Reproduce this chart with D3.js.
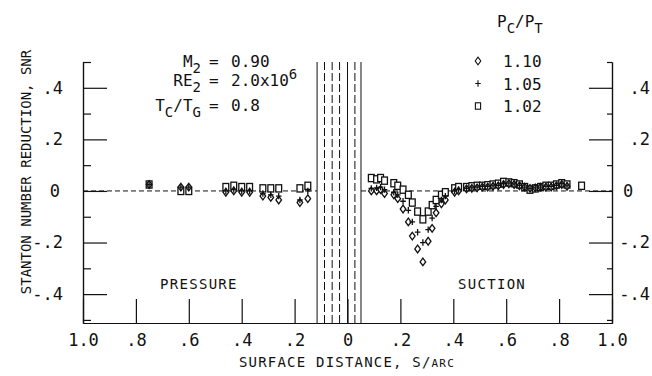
<!DOCTYPE html>
<html>
<head>
<meta charset="utf-8">
<script src="https://cdn.jsdelivr.net/npm/d3@7/dist/d3.min.js"></script>
<style>
  body { margin: 0; background: #fff; }
  text { font-family: 'DejaVu Sans Mono', monospace; fill: #111; }
</style>
</head>
<body>
<div id="chart"></div>
<script>
// axis ticks
var xTickValues = [-1, -0.8, -0.6, -0.4, -0.2, 0, 0.2, 0.4, 0.6, 0.8, 1];
var xTickLabels = ["1.0", ".8", ".6", ".4", ".2", "0", ".2", ".4", ".6", ".8", "1.0"];
var yTickValues = [-0.4, -0.2, 0, 0.2, 0.4];
var yTickLabels = ["-.4", "-.2", "0", ".2", ".4"];
var yMinorTicks = [-0.5, -0.3, -0.1, 0.1, 0.3, 0.5];

// coolant hole rows near the leading edge (signed surface distance)
var solidRows = [-0.115, 0, 0.051];
var dashedRows = [-0.087, -0.058, -0.03, 0.028];

// pressure side (distance from leading edge)
var pressureS      = [0.75, 0.63, 0.60, 0.46, 0.43, 0.40, 0.37, 0.32, 0.29, 0.26, 0.18, 0.15];
var pressure110    = [0.025, 0.015, 0.015, -0.005, 0.0, -0.005, -0.005, -0.02, -0.025, -0.035, -0.045, -0.03];
var pressure105    = [0.025, 0.015, 0.015, 0.0, 0.005, 0.0, 0.0, -0.01, -0.015, -0.02, -0.035, 0.0];
var pressure102    = [0.025, 0.0, 0.0, 0.015, 0.02, 0.015, 0.015, 0.01, 0.01, 0.01, 0.01, 0.02];

// suction side
var suctionS   = [0.09, 0.11, 0.125, 0.14, 0.175, 0.19, 0.21, 0.23, 0.245, 0.265, 0.285, 0.305, 0.32, 0.335, 0.355, 0.37,
                  0.405, 0.42, 0.45, 0.47, 0.49, 0.51, 0.53, 0.55, 0.57, 0.59, 0.61, 0.63, 0.65, 0.67, 0.69, 0.71,
                  0.73, 0.75, 0.77, 0.79, 0.81, 0.83, 0.885];
var suction110 = [0.0, 0.0, 0.005, -0.01, -0.015, -0.03, -0.07, -0.12, -0.175, -0.225, -0.275, -0.195, -0.145, -0.085, -0.05, -0.035,
                  -0.005, 0.0, 0.008, 0.01, 0.012, 0.015, 0.015, 0.018, 0.02, 0.025, 0.028, 0.025, 0.02, 0.015, 0.01, 0.012,
                  0.015, 0.015, 0.015, 0.02, 0.025, 0.018, null];
var suction105 = [0.01, 0.012, 0.015, 0.005, -0.005, -0.015, -0.04, -0.075, -0.12, -0.16, -0.2, -0.15, -0.105, -0.06, -0.035, -0.02,
                  0.0, 0.005, 0.01, 0.012, 0.015, 0.018, 0.018, 0.02, 0.022, 0.028, 0.03, 0.027, 0.022, 0.015, 0.01, 0.012,
                  0.015, 0.018, 0.018, 0.022, 0.028, 0.02, null];
var suction102 = [0.05, 0.045, 0.05, 0.04, 0.03, 0.02, 0.005, -0.015, -0.045, -0.08, -0.11, -0.08, -0.055, -0.035, -0.015, -0.005,
                  0.01, 0.015, 0.015, 0.018, 0.02, 0.02, 0.022, 0.025, 0.028, 0.035, 0.033, 0.03, 0.025, 0.015, 0.005, 0.01,
                  0.015, 0.02, 0.02, 0.025, 0.03, 0.025, 0.02];

var legendLabels = ["1.10", "1.05", "1.02"];

function init() {
    var width = 652;
    var height = 376;
    var ink = "#111";

    var svg = d3.select("#chart")
                .append("svg")
                .attr("width", width)
                .attr("height", height);

    var xScale = d3.scaleLinear().domain([-1, 1]).range([83, 612]);
    var yScale = d3.scaleLinear().domain([-0.512, 0.5]).range([323, 62]);

    function styleAxis(g, size) {
        g.selectAll("path, line").attr("stroke", ink).attr("stroke-width", 1.2);
        g.selectAll("text")
            .attr("font-family", "'DejaVu Sans Mono', monospace")
            .attr("font-size", size)
            .attr("fill", ink);
        g.attr("font-family", null).attr("font-size", null);
    }

    // bottom axis, ticks pointing up into the plot
    var xAxis = d3.axisBottom(xScale)
                .tickValues(xTickValues)
                .tickSize(-24)
                .tickSizeOuter(0)
                .tickPadding(11)
                .tickFormat(function(d, i) { return xTickLabels[i]; });
    var gx = svg.append("g")
        .attr("transform", "translate(0," + yScale(-0.512) + ")")
        .call(xAxis);
    styleAxis(gx, 17);

    // left axis
    var yAxisL = d3.axisLeft(yScale)
                .tickValues(yTickValues)
                .tickSize(-24)
                .tickSizeOuter(0)
                .tickPadding(20)
                .tickFormat(function(d, i) { return yTickLabels[i]; });
    var gl = svg.append("g")
        .attr("transform", "translate(" + xScale(-1) + ",0)")
        .call(yAxisL);
    styleAxis(gl, 17);
    gl.selectAll(".tick text").attr("dx", function(d) { return d === 0 ? -3 : 0; });

    var gl2 = svg.append("g")
        .attr("transform", "translate(" + xScale(-1) + ",0)")
        .call(d3.axisLeft(yScale).tickValues(yMinorTicks).tickSize(-8).tickSizeOuter(0).tickFormat(""));
    styleAxis(gl2, 17);

    // right axis
    var yAxisR = d3.axisRight(yScale)
                .tickValues(yTickValues)
                .tickSize(-23)
                .tickSizeOuter(0)
                .tickFormat(function(d, i) { return yTickLabels[i]; });
    var gr = svg.append("g")
        .attr("transform", "translate(" + xScale(1) + ",0)")
        .call(yAxisR);
    styleAxis(gr, 17);
    gr.selectAll(".tick text")
        .attr("text-anchor", function(d) { return d === 0 ? "start" : "end"; })
        .attr("x", function(d) { return d === 0 ? 11 : 38; });

    var gr2 = svg.append("g")
        .attr("transform", "translate(" + xScale(1) + ",0)")
        .call(d3.axisRight(yScale).tickValues(yMinorTicks).tickSize(-5).tickSizeOuter(0).tickFormat(""));
    styleAxis(gr2, 17);

    // dashed zero line either side of the hole region
    var zeroSegs = [[-1, d3.min(solidRows)], [d3.max(solidRows), 1]];
    svg.selectAll("line.zero")
        .data(zeroSegs)
        .enter()
        .append("line")
        .attr("class", "zero")
        .attr("x1", function(d) { return xScale(d[0]); })
        .attr("x2", function(d) { return xScale(d[1]); })
        .attr("y1", yScale(0))
        .attr("y2", yScale(0))
        .attr("stroke", ink)
        .attr("stroke-width", 1)
        .attr("stroke-dasharray", "5,3");

    // hole rows
    svg.selectAll("line.solidrow")
        .data(solidRows)
        .enter()
        .append("line")
        .attr("class", "solidrow")
        .attr("x1", function(d) { return xScale(d); })
        .attr("x2", function(d) { return xScale(d); })
        .attr("y1", yScale(0.5))
        .attr("y2", yScale(-0.512))
        .attr("stroke", ink)
        .attr("stroke-width", 1);

    svg.selectAll("line.dashrow")
        .data(dashedRows)
        .enter()
        .append("line")
        .attr("class", "dashrow")
        .attr("x1", function(d) { return xScale(d); })
        .attr("x2", function(d) { return xScale(d); })
        .attr("y1", yScale(0.5))
        .attr("y2", yScale(-0.512))
        .attr("stroke", ink)
        .attr("stroke-width", 1)
        .attr("stroke-dasharray", "8,3");

    // build point lists (pressure side plotted at negative s)
    function points(sArr, vArr, sign) {
        var out = [];
        for (var i = 0; i < sArr.length; i++) {
            if (vArr[i] !== null) out.push({ s: sign * sArr[i], v: vArr[i] });
        }
        return out;
    }
    var pts102 = points(pressureS, pressure102, -1).concat(points(suctionS, suction102, 1));
    var pts110 = points(pressureS, pressure110, -1).concat(points(suctionS, suction110, 1));
    var pts105 = points(pressureS, pressure105, -1).concat(points(suctionS, suction105, 1));

    var diamondPath = "M0,-3.8L2.8,0L0,3.8L-2.8,0Z";
    var plusPath = "M-2.8,0H2.8M0,-3.2V3.2";

    var markers = svg.append("g");

    markers.selectAll("rect.sq")
        .data(pts102)
        .enter()
        .append("rect")
        .attr("class", "sq")
        .attr("x", function(d) { return xScale(d.s) - 2.9; })
        .attr("y", function(d) { return yScale(d.v) - 3.6; })
        .attr("width", 5.8)
        .attr("height", 7.2)
        .attr("fill", "#fff")
        .attr("stroke", ink)
        .attr("stroke-width", 1.3);

    markers.selectAll("path.dm")
        .data(pts110)
        .enter()
        .append("path")
        .attr("class", "dm")
        .attr("d", diamondPath)
        .attr("transform", function(d) { return "translate(" + xScale(d.s) + "," + yScale(d.v) + ")"; })
        .attr("fill", "#fff")
        .attr("stroke", ink)
        .attr("stroke-width", 1.3);

    markers.selectAll("path.pl")
        .data(pts105)
        .enter()
        .append("path")
        .attr("class", "pl")
        .attr("d", plusPath)
        .attr("transform", function(d) { return "translate(" + xScale(d.s) + "," + yScale(d.v) + ")"; })
        .attr("fill", "none")
        .attr("stroke", ink)
        .attr("stroke-width", 1.3);

    // axis titles
    svg.append("text")
        .attr("transform", "translate(31,172) rotate(-90)")
        .attr("text-anchor", "middle")
        .attr("font-size", 14)
        .text("STANTON NUMBER REDUCTION, SNR");

    var xt = svg.append("text")
        .attr("x", 347)
        .attr("y", 367)
        .attr("text-anchor", "middle")
        .attr("font-size", 14)
        .attr("letter-spacing", 1.2);
    xt.append("tspan").text("SURFACE DISTANCE, S/");
    xt.append("tspan").attr("font-size", 11).text("ARC");

    // side labels
    svg.append("text").attr("x", 160).attr("y", 289).attr("font-size", 14)
        .attr("letter-spacing", 1.3).text("PRESSURE");
    svg.append("text").attr("x", 458).attr("y", 289).attr("font-size", 14)
        .attr("letter-spacing", 1.3).text("SUCTION");

    // flow conditions
    var cond = svg.append("g").attr("font-size", 16);
    var t1 = cond.append("text").attr("x", 201).attr("y", 67).attr("text-anchor", "end");
    t1.append("tspan").text("M");
    t1.append("tspan").attr("dy", 6).attr("font-size", 14).text("2");
    var t2 = cond.append("text").attr("x", 201).attr("y", 86).attr("text-anchor", "end");
    t2.append("tspan").text("RE");
    t2.append("tspan").attr("dy", 6).attr("font-size", 14).text("2");
    var t3 = cond.append("text").attr("x", 201).attr("y", 111).attr("text-anchor", "end");
    t3.append("tspan").text("T");
    t3.append("tspan").attr("dy", 6).attr("font-size", 14).text("C");
    t3.append("tspan").attr("dy", -6).text("/T");
    t3.append("tspan").attr("dy", 6).attr("font-size", 14).text("G");

    [67, 86, 111].forEach(function(y) {
        cond.append("text").attr("x", 209).attr("y", y).text("=");
    });
    cond.append("text").attr("x", 231).attr("y", 67).text("0.90");
    var v2 = cond.append("text").attr("x", 231).attr("y", 86);
    v2.append("tspan").text("2.0x10");
    v2.append("tspan").attr("dy", -7).attr("font-size", 14).text("6");
    cond.append("text").attr("x", 231).attr("y", 111).text("0.8");

    // legend
    var hdr = svg.append("text").attr("x", 497).attr("y", 27).attr("font-size", 16);
    hdr.append("tspan").text("P");
    hdr.append("tspan").attr("dy", 6).attr("font-size", 14).text("C");
    hdr.append("tspan").attr("dy", -6).text("/P");
    hdr.append("tspan").attr("dy", 6).attr("font-size", 14).text("T");

    var legY = d3.scalePoint().domain(legendLabels).range([61, 106]);
    var leg = svg.append("g");
    leg.append("path").attr("d", diamondPath)
        .attr("transform", "translate(478," + legY("1.10") + ")")
        .attr("fill", "#fff").attr("stroke", ink).attr("stroke-width", 1.1);
    leg.append("path").attr("d", plusPath)
        .attr("transform", "translate(478," + legY("1.05") + ")")
        .attr("fill", "none").attr("stroke", ink).attr("stroke-width", 1.1);
    leg.append("rect")
        .attr("x", 478 - 2.6).attr("y", legY("1.02") - 3.2)
        .attr("width", 5.2).attr("height", 6.4)
        .attr("fill", "#fff").attr("stroke", ink).attr("stroke-width", 1.1);
    leg.selectAll("text")
        .data(legendLabels)
        .enter()
        .append("text")
        .attr("x", 503)
        .attr("y", function(d) { return legY(d) + 6; })
        .attr("font-size", 16)
        .text(function(d) { return d; });
}

window.onload = init;
</script>
</body>
</html>
